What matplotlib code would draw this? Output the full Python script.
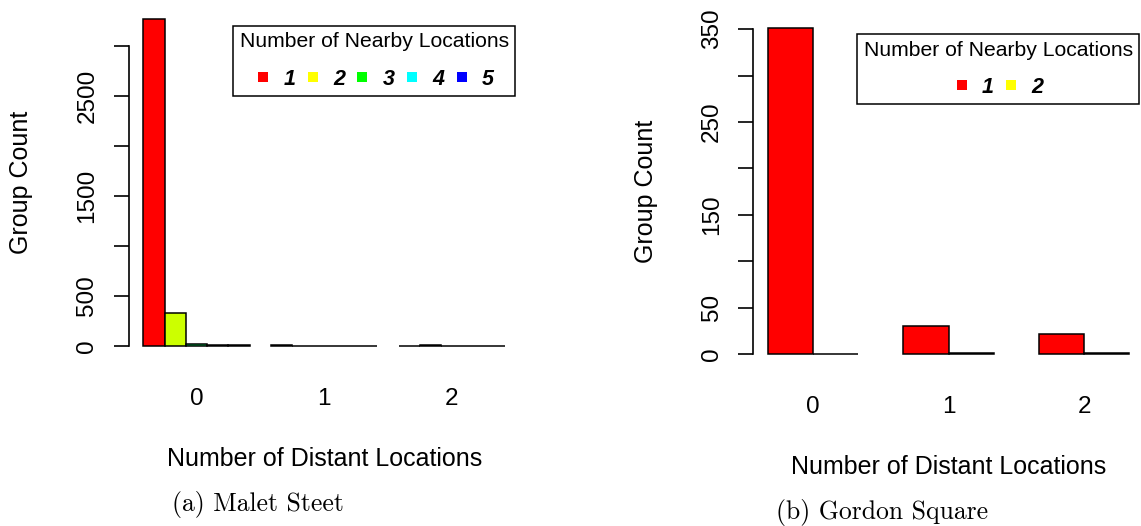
import matplotlib
matplotlib.use("Agg")
import matplotlib.pyplot as plt
from matplotlib.lines import Line2D
import numpy as np

plt.rcParams['font.family'] = ['Liberation Sans', 'DejaVu Sans']

# data
distant = ['0', '1', '2']

malet_nearby = ['1', '2', '3', '4', '5']
malet_counts = [
    [3270, 325, 22, 6, 9],   # 0 distant
    [8, 1, 0, 0, 1],         # 1 distant
    [1, 5, 1, 0, 0],         # 2 distant
]
malet_yticks = [0, 500, 1000, 1500, 2000, 2500, 3000]
malet_ylabels = ['0', '500', '', '1500', '', '2500', '']

gordon_nearby = ['1', '2']
gordon_counts = [
    [351, 0],
    [30, 1.5],
    [21, 1.5],
]
gordon_yticks = [0, 50, 100, 150, 200, 250, 300, 350]
gordon_ylabels = ['0', '50', '', '150', '', '250', '', '350']

# bars use R rainbow(n), legend uses plain colours
malet_bar_cols = ['#FF0000', '#CCFF00', '#00FF66', '#0066FF', '#CC00FF']
gordon_bar_cols = ['#FF0000', '#00FFFF']
legend_cols = ['#FF0000', '#FFFF00', '#00FF00', '#00FFFF', '#0000FF']

W, H = 1141, 526
fig = plt.figure(figsize=(W / 100, H / 100), dpi=100)


def px_axes(x0, x1, ytop, ybot):
    return fig.add_axes([x0 / W, 1 - ybot / H, (x1 - x0) / W, (ybot - ytop) / H])


def rbarplot(ax, counts, cols, nearby, yticks, ylabels, leg_xy):
    counts = np.array(counts, dtype=float)
    ngroup, nbar = counts.shape
    # R barplot(beside=TRUE): width 1, space c(0, 1)
    lefts = []
    for g in range(ngroup):
        start = 1 + g * (nbar + 1)
        for b in range(nbar):
            ax.bar(start + b, counts[g, b], width=1, align='edge',
                   color=cols[b], edgecolor='black', linewidth=1.1)
        lefts.append(start)
    lo, hi = 1, 1 + ngroup * (nbar + 1) - 1
    pad = 0.04 * (hi - lo)
    ax.set_xlim(lo - pad, hi + pad)
    ymax = counts.max()
    ax.set_ylim(-0.04 * ymax, 1.04 * ymax)

    centers = [l + nbar / 2 for l in lefts]
    ax.set_xticks(centers, distant, fontsize=17.5)
    ax.tick_params(axis='x', length=0, pad=21)

    ax.set_yticks(yticks, ylabels, fontsize=17.5, rotation=90, va='center')
    ax.tick_params(axis='y', length=11, width=1.2, pad=11)
    for s in ['top', 'right', 'bottom']:
        ax.spines[s].set_visible(False)
    ax.spines['left'].set_linewidth(1.2)
    ax.spines['left'].set_bounds(yticks[0], yticks[-1])

    ax.set_ylabel('Group Count', fontsize=18)
    ax.yaxis.set_label_coords(-0.245, 0.5)
    ax.set_xlabel('Number of Distant Locations', fontsize=18)
    ax.xaxis.set_label_coords(0.5, -0.25)

    handles = [Line2D([], [], marker='s', linestyle='none', markersize=6.5,
                      markerfacecolor=legend_cols[i], markeredgewidth=0)
               for i in range(len(nearby))]
    leg = ax.legend(handles, nearby, title='Number of Nearby Locations',
                    ncol=len(nearby), loc='upper left',
                    bbox_to_anchor=(leg_xy[0] / W, 1 - leg_xy[1] / H),
                    bbox_transform=fig.transFigure, borderaxespad=0,
                    title_fontsize=15.2, handlelength=0.8,
                    handletextpad=0.55, columnspacing=0.4, borderpad=0.3,
                    labelspacing=0.8, fancybox=False, framealpha=1,
                    edgecolor='black', prop={'size': 15.5, 'weight': 'bold',
                                             'style': 'italic'})
    leg.get_frame().set_linewidth(1.1)
    return ax


ax1 = px_axes(128.9, 519.5, 6.3, 358.8)
rbarplot(ax1, malet_counts, malet_bar_cols, malet_nearby,
         malet_yticks, malet_ylabels, (233.3, 26))

ax2 = px_axes(753.2, 1143.8, 15.2, 367)
rbarplot(ax2, gordon_counts, gordon_bar_cols, gordon_nearby,
         gordon_yticks, gordon_ylabels, (857.3, 34.3))

fig.text(257.5 / W, 1 - 505 / H, '(a) Malet Steet', family='cmr10',
         fontsize=18.5, ha='center', va='center')
fig.text(882.5 / W, 1 - 513 / H, '(b) Gordon Square', family='cmr10',
         fontsize=18.5, ha='center', va='center')

fig.savefig('out.png', dpi=100)
